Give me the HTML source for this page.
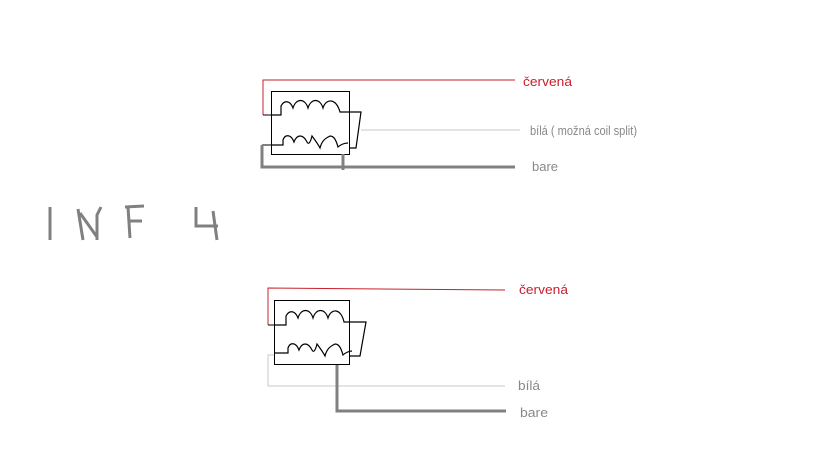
<!DOCTYPE html>
<html><head><meta charset="utf-8"><style>
html,body{margin:0;padding:0;background:#fff;}
svg{display:block;}
text{font-family:"Liberation Sans","DejaVu Sans",sans-serif;font-size:12.5px;}
</style></head><body>
<svg width="819" height="460" viewBox="0 0 819 460" xmlns="http://www.w3.org/2000/svg">
<!-- TOP -->
<g fill="none">
<polyline points="263,115 263,80 515,80" stroke="#c8202a" stroke-width="1"/>
<polyline points="263,115 271,115" stroke="#000" stroke-width="1"/>
<rect x="271.5" y="91.5" width="78" height="63" stroke="#000" stroke-width="1"/>
<path d="M271,115 H281 V106 C284,100 290,100 293,108 C296,98 305,98 308,108 C311,98 320,98 323,108 C326,98 336,98 340,112 H361 L356,148 H349" stroke="#000" stroke-width="1.2"/>
<path d="M271,145 H283 V140 C285,134 291,134 294,142 C297,134 303,134 307,142 C309,146 311,140 312,136 C315,140 318,144 320,148 C322,140 326,138 330,136 C334,136 336,140 338,147 C340,145 344,143 348,143" stroke="#000" stroke-width="1.2"/>
<polyline points="361,130 520,130" stroke="#c8c8c8" stroke-width="1"/>
<polyline points="262,145 262,167 515,167" stroke="#808080" stroke-width="3"/>
<polyline points="271,145 262,145" stroke="#808080" stroke-width="2"/>
<polyline points="343,154 343,170" stroke="#808080" stroke-width="3"/>
</g>
<text x="523" y="86" fill="#c8202a" textLength="49" lengthAdjust="spacingAndGlyphs">červená</text>
<text x="530" y="135" fill="#888" textLength="107" lengthAdjust="spacingAndGlyphs">bílá ( možná coil split)</text>
<text x="532" y="171" fill="#888" textLength="26" lengthAdjust="spacingAndGlyphs">bare</text>

<!-- INF 4 -->
<g fill="none" stroke="#808080" stroke-width="3">
<line x1="50" y1="207" x2="50" y2="240"/>
<path d="M78,209 L83,240 M80,213 L97,237 M101,207 L97,215 L97,240"/>
<path d="M128,207 L130,238 M125,207 L144,206 M128,221 L142,221"/>
<path d="M196,207 L196,226 L218,226 M213,211 L217,240"/>
</g>

<!-- BOTTOM -->
<g fill="none">
<polyline points="268,325 268,288 505,290" stroke="#c8202a" stroke-width="1"/>
<polyline points="268,325 277,325" stroke="#000" stroke-width="1"/>
<rect x="274.5" y="300.5" width="75" height="64" stroke="#000" stroke-width="1"/>
<path d="M274,325 H286 V316 C289,310 295,310 298,318 C301,308 310,308 313,318 C316,308 325,308 328,318 C331,308 341,308 344,322 H366 L360,356 H350" stroke="#000" stroke-width="1.2"/>
<path d="M274,353 H288 V348 C290,342 296,342 299,350 C302,342 308,342 312,350 C314,354 316,348 317,344 C320,348 323,352 325,356 C327,348 331,346 335,344 C339,344 341,348 343,355 C345,353 349,351 352,351" stroke="#000" stroke-width="1.2"/>
<polyline points="274,355 268,355 268,386 505,386" stroke="#c8c8c8" stroke-width="1"/>
<polyline points="337,365 337,411 506,411" stroke="#808080" stroke-width="3"/>
</g>
<text x="519" y="294" fill="#c8202a" textLength="49" lengthAdjust="spacingAndGlyphs">červená</text>
<text x="518" y="390" fill="#888" textLength="22" lengthAdjust="spacingAndGlyphs">bílá</text>
<text x="520" y="417" fill="#888" textLength="28" lengthAdjust="spacingAndGlyphs">bare</text>
</svg>
</body></html>
